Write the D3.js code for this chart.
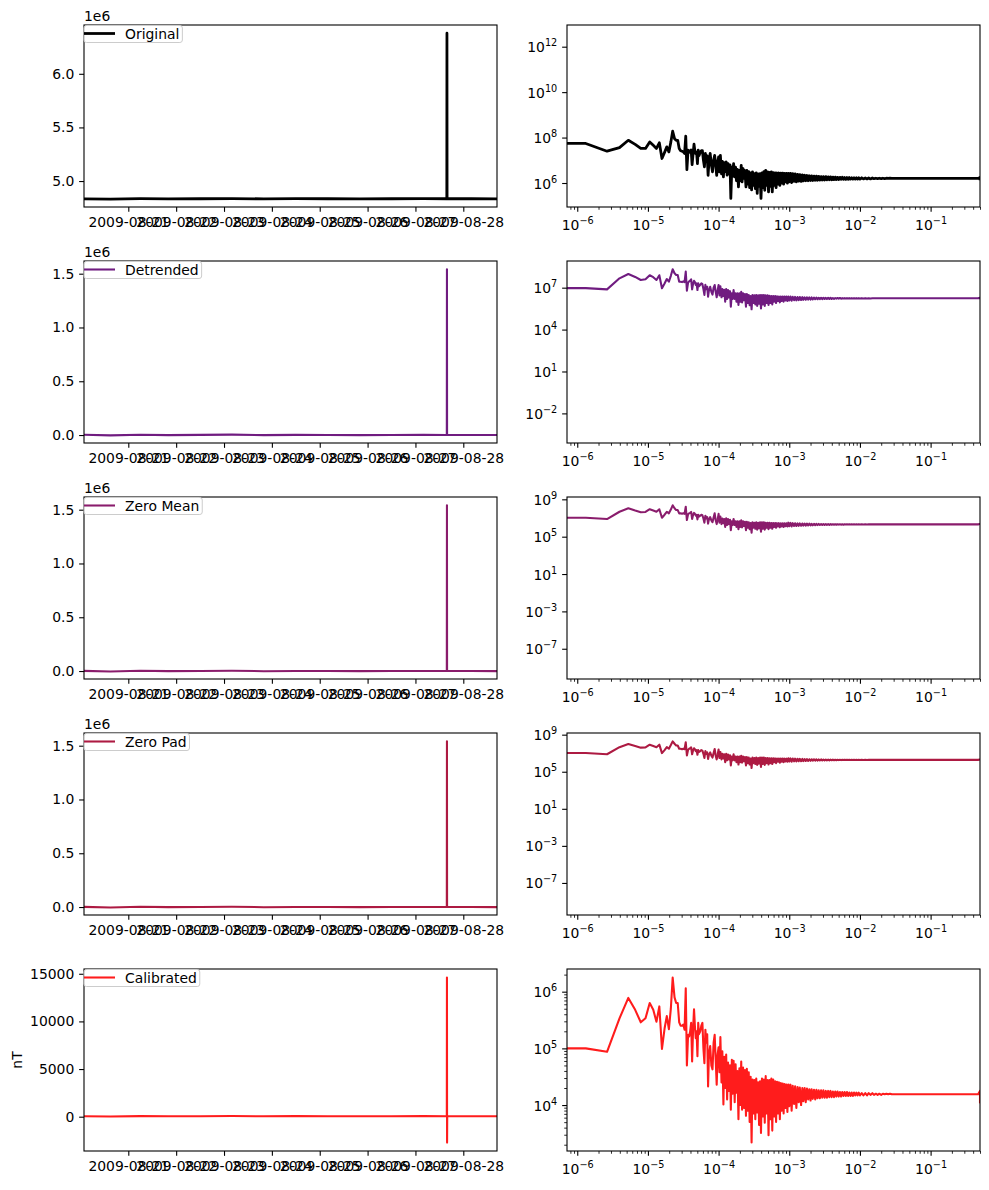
<!DOCTYPE html>
<html>
<head>
<meta charset="utf-8">
<script src="https://cdn.jsdelivr.net/npm/d3@7"></script>
<style>
  body { margin: 0; background: #fff; }
  svg { font-family: "DejaVu Sans", sans-serif; }
</style>
</head>
<body>
<svg id="fig" width="989" height="1190"></svg>
<script>
// ---------------- data ----------------

var seriesNames = ["Original", "Detrended", "Zero Mean", "Zero Pad", "Calibrated"];

// time series: sample times (UTC) and values for each processing step
var sampleTimes = [
  "2009-08-20T01:47", "2009-08-20T15:00", "2009-08-21T06:00", "2009-08-21T20:00",
  "2009-08-22T12:00", "2009-08-23T04:00", "2009-08-23T20:00", "2009-08-24T12:00",
  "2009-08-25T04:00", "2009-08-25T20:00", "2009-08-26T12:00", "2009-08-27T04:00",
  "2009-08-27T15:44", "2009-08-27T15:48", "2009-08-27T15:52", "2009-08-27T15:56",
  "2009-08-28T04:00", "2009-08-28T16:54"
];
var originalCounts = [4.834e6, 4.832e6, 4.836e6, 4.834e6, 4.835e6, 4.837e6, 4.834e6, 4.836e6, 4.835e6,
  4.834e6, 4.835e6, 4.836e6, 4.835e6, 6.378e6, 4.836e6, 4.835e6, 4.835e6, 4.834e6];
var detrendedCounts = [2000, -3000, 3000, -500, 1500, 3500, -1000, 1500, 500,
  -500, 500, 1500, 1000, 1541000, 1000, 1000, 500, 0];
var zeroMeanCounts = [1500, -3500, 2500, -1000, 1000, 3000, -1500, 1000, 0,
  -1000, 0, 1000, 500, 1540500, 500, 500, 0, -500];
var zeroPadCounts = [1500, -3500, 2500, -1000, 1000, 3000, -1500, 1000, 0,
  -1000, 0, 1000, 500, 1540500, 500, 500, 0, -500];
var calibratedNT = [40, 20, 60, 40, 50, 70, 40, 60, 50, 40, 50, 60, 50, 14613, -2720, 50, 50, 40];

// spectra: frequency bins (Hz) shared by all steps
var freqHz = [
  // low harmonics
  7.16e-7, 1.32e-6, 2.64e-6, 3.96e-6, 5.28e-6, 6.6e-6, 7.92e-6, 9.24e-6, 1.06e-5, 1.19e-5,
  1.32e-5, 1.45e-5, 1.58e-5, 1.72e-5, 1.85e-5, 1.98e-5, 2.11e-5, 2.24e-5, 2.38e-5, 2.51e-5,
  2.64e-5, 2.77e-5, 2.9e-5, 3.04e-5, 3.17e-5, 3.3e-5, 3.43e-5, 3.56e-5, 3.7e-5, 3.83e-5,
  3.96e-5, 4.09e-5, 4.22e-5, 4.36e-5, 4.49e-5, 4.62e-5, 4.75e-5, 4.88e-5, 5.02e-5, 5.15e-5, 5.28e-5,
  5.5e-5, 5.7e-5, 5.9e-5, 6.1e-5, 6.3e-5, 6.5e-5, 6.7e-5, 6.9e-5, 7.1e-5, 7.3e-5,
  7.6e-5, 7.9e-5, 8.2e-5, 8.5e-5, 8.8e-5, 9.1e-5, 9.4e-5, 9.7e-5,
  // 1e-4 .. 1e-3
  1.00e-4, 1.03e-4, 1.06e-4, 1.10e-4, 1.13e-4, 1.17e-4, 1.20e-4, 1.24e-4, 1.28e-4, 1.32e-4,
  1.36e-4, 1.40e-4, 1.45e-4, 1.49e-4, 1.54e-4, 1.58e-4, 1.63e-4, 1.69e-4, 1.74e-4, 1.79e-4,
  1.85e-4, 1.91e-4, 1.97e-4, 2.03e-4, 2.09e-4, 2.15e-4, 2.22e-4, 2.29e-4, 2.36e-4, 2.44e-4,
  2.51e-4, 2.59e-4, 2.67e-4, 2.75e-4, 2.84e-4, 2.93e-4, 3.02e-4, 3.11e-4, 3.21e-4, 3.31e-4,
  3.41e-4, 3.52e-4, 3.63e-4, 3.74e-4, 3.86e-4, 3.98e-4, 4.11e-4, 4.23e-4, 4.37e-4, 4.50e-4,
  4.64e-4, 4.79e-4, 4.94e-4, 5.09e-4, 5.25e-4, 5.41e-4, 5.58e-4, 5.75e-4, 5.93e-4, 6.12e-4,
  6.31e-4, 6.51e-4, 6.71e-4, 6.92e-4, 7.13e-4, 7.36e-4, 7.59e-4, 7.82e-4, 8.07e-4, 8.32e-4,
  8.58e-4, 8.85e-4, 9.12e-4, 9.41e-4, 9.70e-4,
  // 1e-3 .. 1e-2
  1.00e-3, 1.04e-3, 1.08e-3, 1.12e-3, 1.17e-3, 1.21e-3, 1.26e-3, 1.31e-3, 1.36e-3, 1.41e-3,
  1.47e-3, 1.53e-3, 1.58e-3, 1.65e-3, 1.71e-3, 1.78e-3, 1.85e-3, 1.92e-3, 2.00e-3, 2.07e-3,
  2.15e-3, 2.24e-3, 2.33e-3, 2.42e-3, 2.51e-3, 2.61e-3, 2.71e-3, 2.82e-3, 2.93e-3, 3.04e-3,
  3.16e-3, 3.29e-3, 3.41e-3, 3.55e-3, 3.69e-3, 3.83e-3, 3.98e-3, 4.14e-3, 4.30e-3, 4.47e-3,
  4.64e-3, 4.82e-3, 5.01e-3, 5.21e-3, 5.41e-3, 5.62e-3, 5.84e-3, 6.07e-3, 6.31e-3, 6.56e-3,
  6.81e-3, 7.08e-3, 7.36e-3, 7.64e-3, 7.94e-3, 8.25e-3, 8.58e-3, 8.91e-3, 9.26e-3, 9.62e-3,
  // 1e-2 .. 3e-2
  1.00e-2, 1.06e-2, 1.12e-2, 1.19e-2, 1.26e-2, 1.33e-2, 1.41e-2, 1.50e-2, 1.58e-2, 1.68e-2,
  1.78e-2, 1.88e-2, 2.00e-2, 2.11e-2, 2.24e-2, 2.37e-2, 2.51e-2, 2.66e-2, 2.82e-2, 2.99e-2,
  // flat tail to Nyquist
  3.2e-2, 0.1, 0.3, 0.47, 0.4995, 0.5
];

// spectral power per bin, as log10 (decades)
var originalPowLog10 = [
  7.74, 7.74, 7.40, 7.56, 7.88, 7.70, 7.52, 7.52, 7.81, 7.66,
  7.52, 7.77, 7.08, 7.35, 7.59, 7.37, 7.80, 8.28, 7.95, 7.88,
  7.88, 7.52, 7.42, 7.40, 7.37, 7.30, 8.06, 6.59, 7.45, 7.40,
  7.35, 7.45, 6.81, 7.30, 7.71, 7.40, 7.30, 7.35, 6.85, 7.45, 7.20,
  7.35, 7.42, 7.42, 7.00, 6.71, 7.30, 7.00, 7.20, 6.34, 6.90,
  7.30, 6.80, 6.49, 7.00, 7.22, 6.80, 6.34, 6.90,
  7.15, 6.49, 7.22, 6.40, 6.95, 6.27, 6.90, 6.50, 6.93, 6.35,
  6.85, 6.40, 6.80, 5.32, 6.70, 6.30, 6.85, 6.27, 6.70, 6.10,
  6.60, 5.83, 6.56, 6.10, 6.78, 6.05, 6.63, 6.20, 6.55, 5.83,
  6.56, 5.95, 6.50, 5.80, 6.45, 5.70, 6.49, 5.90, 6.41, 5.75,
  6.45, 5.54, 6.40, 5.85, 6.41, 5.32, 6.45, 5.80, 6.50, 5.68,
  6.56, 5.90, 6.49, 5.61, 6.47, 5.85, 6.49, 5.61, 6.46, 5.90,
  6.45, 5.80, 6.44, 5.95, 6.44, 5.90, 6.43, 6.00, 6.43, 5.95,
  6.42, 6.05, 6.42, 6.00, 6.42,
  6.05, 6.42, 6.02, 6.41, 6.07, 6.40, 6.05, 6.38, 6.08, 6.37,
  6.07, 6.36, 6.09, 6.34, 6.10, 6.33, 6.10, 6.32, 6.11, 6.31,
  6.11, 6.30, 6.12, 6.30, 6.12, 6.29, 6.13, 6.28, 6.13, 6.28,
  6.13, 6.28, 6.14, 6.27, 6.14, 6.27, 6.14, 6.26, 6.15, 6.26,
  6.15, 6.25, 6.15, 6.25, 6.16, 6.25, 6.16, 6.24, 6.16, 6.24,
  6.16, 6.24, 6.17, 6.23, 6.17, 6.23, 6.17, 6.23, 6.17, 6.23,
  6.17, 6.23, 6.18, 6.22, 6.18, 6.22, 6.18, 6.22, 6.19, 6.21,
  6.19, 6.21, 6.19, 6.21, 6.19, 6.21, 6.20, 6.21, 6.20, 6.20,
  6.20, 6.20, 6.20, 6.20, 6.24, 6.12
];
var detrendedPowLog10 = [
  6.97, 6.97, 6.88, 7.67, 7.98, 7.77, 7.55, 7.60, 7.89, 7.75,
  7.55, 7.89, 6.96, 7.30, 7.62, 7.43, 7.85, 8.32, 8.03, 7.91,
  7.91, 7.43, 7.43, 7.40, 7.45, 7.40, 8.15, 6.79, 7.36, 7.45,
  7.50, 7.60, 6.88, 7.30, 7.50, 7.40, 7.20, 7.31, 6.83, 7.31, 7.10,
  7.20, 7.31, 7.25, 6.90, 6.48, 7.20, 6.90, 7.07, 6.36, 6.80,
  7.07, 6.70, 6.50, 7.00, 7.19, 6.70, 6.31, 6.80,
  7.19, 6.45, 7.10, 6.31, 6.90, 6.40, 6.85, 6.00, 6.90, 6.20,
  6.83, 6.30, 6.75, 5.64, 6.60, 6.20, 6.83, 6.20, 6.60, 6.00,
  6.60, 5.76, 6.60, 6.00, 6.70, 5.95, 6.60, 6.10, 6.55, 5.64,
  6.55, 5.90, 6.48, 5.75, 6.40, 5.45, 6.48, 5.90, 6.45, 5.80,
  6.48, 5.70, 6.45, 5.85, 6.48, 5.52, 6.48, 5.80, 6.48, 5.70,
  6.45, 5.90, 6.45, 5.76, 6.42, 5.90, 6.40, 5.80, 6.40, 6.00,
  6.40, 5.90, 6.38, 6.05, 6.37, 5.95, 6.37, 6.05, 6.36, 6.00,
  6.36, 6.08, 6.36, 6.05, 6.36,
  6.08, 6.36, 6.06, 6.35, 6.10, 6.34, 6.09, 6.33, 6.11, 6.33,
  6.12, 6.32, 6.13, 6.31, 6.14, 6.31, 6.15, 6.30, 6.15, 6.30,
  6.16, 6.29, 6.17, 6.29, 6.17, 6.28, 6.18, 6.28, 6.18, 6.28,
  6.19, 6.27, 6.19, 6.27, 6.20, 6.27, 6.20, 6.26, 6.20, 6.26,
  6.21, 6.26, 6.21, 6.26, 6.21, 6.25, 6.22, 6.25, 6.22, 6.25,
  6.22, 6.25, 6.23, 6.25, 6.23, 6.25, 6.23, 6.25, 6.23, 6.25,
  6.23, 6.25, 6.23, 6.25, 6.23, 6.24, 6.23, 6.24, 6.24, 6.24,
  6.24, 6.24, 6.24, 6.24, 6.24, 6.24, 6.24, 6.24, 6.24, 6.24,
  6.24, 6.24, 6.24, 6.24, 6.28, 6.18
];
var zeroMeanPowLog10 = [
  7.03, 7.03, 6.89, 7.67, 8.04, 7.80, 7.62, 7.65, 7.94, 7.80,
  7.67, 7.94, 7.03, 7.35, 7.67, 7.50, 7.90, 8.36, 8.05, 7.85,
  7.85, 7.50, 7.50, 7.45, 7.50, 7.45, 8.21, 6.78, 7.40, 7.50,
  7.55, 7.65, 6.90, 7.35, 7.55, 7.45, 7.25, 7.35, 6.85, 7.35, 7.15,
  7.25, 7.35, 7.30, 6.95, 6.50, 7.25, 6.95, 7.10, 6.40, 6.85,
  7.10, 6.75, 6.55, 7.05, 7.50, 6.75, 6.35, 6.85,
  7.45, 6.50, 7.15, 6.35, 6.95, 6.45, 6.90, 6.05, 6.96, 6.25,
  6.88, 6.35, 6.80, 5.70, 6.65, 6.25, 6.90, 6.25, 6.65, 6.05,
  6.65, 5.80, 6.65, 6.05, 6.75, 6.00, 6.65, 6.15, 6.60, 5.70,
  6.60, 5.95, 6.55, 5.80, 6.45, 5.42, 6.55, 5.95, 6.50, 5.85,
  6.55, 5.75, 6.50, 5.90, 6.55, 5.53, 6.55, 5.85, 6.55, 5.75,
  6.50, 5.95, 6.50, 5.80, 6.48, 5.95, 6.47, 5.85, 6.47, 6.05,
  6.46, 5.95, 6.45, 6.10, 6.45, 6.00, 6.44, 6.10, 6.44, 6.05,
  6.43, 6.12, 6.43, 6.10, 6.50,
  6.12, 6.48, 6.10, 6.45, 6.15, 6.44, 6.14, 6.43, 6.16, 6.42,
  6.17, 6.41, 6.18, 6.40, 6.19, 6.40, 6.20, 6.39, 6.21, 6.38,
  6.22, 6.38, 6.23, 6.37, 6.24, 6.37, 6.25, 6.36, 6.25, 6.36,
  6.26, 6.35, 6.27, 6.35, 6.27, 6.35, 6.28, 6.34, 6.28, 6.34,
  6.28, 6.34, 6.29, 6.34, 6.29, 6.33, 6.29, 6.33, 6.30, 6.33,
  6.30, 6.33, 6.30, 6.33, 6.31, 6.33, 6.31, 6.33, 6.31, 6.33,
  6.31, 6.33, 6.31, 6.33, 6.31, 6.33, 6.32, 6.32, 6.32, 6.32,
  6.32, 6.32, 6.32, 6.32, 6.32, 6.32, 6.32, 6.32, 6.32, 6.32,
  6.32, 6.32, 6.32, 6.32, 6.36, 6.26
];
var zeroPadPowLog10 = [
  7.03, 7.03, 6.89, 7.65, 8.00, 7.78, 7.60, 7.63, 7.92, 7.78,
  7.65, 7.92, 7.01, 7.33, 7.65, 7.48, 7.88, 8.28, 8.02, 7.83,
  7.83, 7.48, 7.48, 7.43, 7.48, 7.43, 8.18, 6.76, 7.38, 7.48,
  7.53, 7.63, 6.88, 7.33, 7.53, 7.43, 7.23, 7.33, 6.83, 7.33, 7.13,
  7.23, 7.33, 7.28, 6.93, 6.48, 7.23, 6.93, 7.08, 6.38, 6.83,
  7.08, 6.73, 6.53, 7.03, 7.45, 6.73, 6.33, 6.83,
  7.40, 6.48, 7.13, 6.33, 6.93, 6.43, 6.88, 6.03, 6.94, 6.23,
  6.86, 6.33, 6.78, 5.68, 6.63, 6.23, 6.88, 6.23, 6.63, 6.03,
  6.63, 5.78, 6.63, 6.03, 6.73, 5.98, 6.63, 6.13, 6.58, 5.68,
  6.58, 5.93, 6.53, 5.78, 6.43, 5.40, 6.53, 5.93, 6.48, 5.83,
  6.53, 5.73, 6.48, 5.88, 6.53, 5.51, 6.53, 5.83, 6.53, 5.73,
  6.48, 5.93, 6.48, 5.78, 6.46, 5.93, 6.45, 5.83, 6.45, 6.03,
  6.44, 5.93, 6.43, 6.08, 6.43, 5.98, 6.42, 6.08, 6.42, 6.03,
  6.41, 6.10, 6.41, 6.08, 6.46,
  6.10, 6.44, 6.08, 6.42, 6.12, 6.41, 6.11, 6.40, 6.13, 6.39,
  6.14, 6.38, 6.15, 6.37, 6.16, 6.36, 6.17, 6.35, 6.18, 6.35,
  6.19, 6.34, 6.20, 6.34, 6.20, 6.33, 6.21, 6.33, 6.22, 6.32,
  6.22, 6.32, 6.23, 6.31, 6.23, 6.31, 6.24, 6.31, 6.24, 6.30,
  6.24, 6.30, 6.25, 6.30, 6.25, 6.30, 6.26, 6.30, 6.26, 6.29,
  6.26, 6.29, 6.27, 6.29, 6.27, 6.29, 6.27, 6.29, 6.27, 6.29,
  6.27, 6.29, 6.27, 6.29, 6.27, 6.29, 6.28, 6.29, 6.28, 6.28,
  6.28, 6.28, 6.28, 6.28, 6.28, 6.28, 6.28, 6.28, 6.28, 6.28,
  6.28, 6.28, 6.28, 6.28, 6.32, 6.22
];
var calibratedPowLog10 = [
  5.00, 5.00, 4.94, 5.53, 5.89, 5.68, 5.46, 5.53, 5.80, 5.68,
  5.47, 5.74, 4.99, 5.35, 5.57, 5.34, 5.70, 6.25, 5.90, 5.80,
  5.80, 5.46, 5.40, 5.40, 5.42, 5.33, 6.06, 4.70, 5.24, 5.21,
  5.30, 5.45, 4.77, 5.35, 5.69, 5.40, 5.18, 5.30, 4.86, 5.45, 5.25,
  5.30, 5.40, 5.45, 5.00, 4.74, 5.33, 5.10, 5.25, 4.33, 4.90,
  5.04, 4.70, 4.63, 5.10, 5.24, 4.80, 4.36, 4.90,
  5.02, 4.58, 5.20, 4.40, 4.95, 4.01, 4.85, 4.30, 4.89, 4.10,
  4.75, 4.25, 4.70, 3.92, 4.80, 4.20, 4.78, 4.05, 4.72, 4.22,
  4.60, 3.75, 4.65, 4.00, 4.77, 3.92, 4.66, 3.95, 4.62, 3.81,
  4.64, 3.90, 4.58, 3.70, 4.50, 3.34, 4.45, 3.85, 4.44, 3.75,
  4.47, 3.87, 4.40, 3.65, 4.42, 3.51, 4.47, 3.80, 4.45, 3.69,
  4.51, 3.85, 4.44, 3.47, 4.44, 3.75, 4.47, 3.55, 4.45, 3.80,
  4.42, 3.70, 4.41, 3.85, 4.40, 3.75, 4.39, 3.90, 4.38, 3.85,
  4.37, 3.95, 4.36, 3.88, 4.36,
  3.98, 4.36, 3.90, 4.34, 4.02, 4.33, 3.95, 4.32, 4.05, 4.31,
  4.00, 4.30, 4.07, 4.30, 4.05, 4.29, 4.10, 4.28, 4.08, 4.28,
  4.11, 4.27, 4.10, 4.27, 4.12, 4.26, 4.12, 4.26, 4.13, 4.26,
  4.13, 4.25, 4.13, 4.25, 4.14, 4.25, 4.14, 4.24, 4.14, 4.24,
  4.15, 4.24, 4.15, 4.23, 4.15, 4.23, 4.16, 4.23, 4.16, 4.23,
  4.16, 4.22, 4.16, 4.22, 4.16, 4.22, 4.17, 4.22, 4.17, 4.22,
  4.17, 4.21, 4.17, 4.21, 4.17, 4.21, 4.18, 4.21, 4.18, 4.20,
  4.18, 4.20, 4.18, 4.20, 4.19, 4.20, 4.19, 4.20, 4.19, 4.19,
  4.19, 4.19, 4.19, 4.19, 4.25, 4.03
];

// tick values
var dayTickLabels = ["2009-08-21", "2009-08-22", "2009-08-23", "2009-08-24",
  "2009-08-25", "2009-08-26", "2009-08-27", "2009-08-28"];
var freqDecades = [-6, -5, -4, -3, -2, -1];

// ---------------- layout ----------------
var svg = d3.select("#fig");
var defs = svg.append("defs");
var leftX = [84, 497], rightX = [567, 980];
var rowTop = [25, 261, 497, 733, 969], rowH = 182;
var TICK = 4.86, PAD = 4.86, MINOR = 2.78, FS = "13.9px";

var parseT = d3.utcParse("%Y-%m-%dT%H:%M");
var parseDay = d3.utcParse("%Y-%m-%d");
var tData = sampleTimes.map(parseT);
var xTime = d3.scaleUtc()
  .domain([parseT("2009-08-20T01:47"), parseT("2009-08-28T16:54")])
  .range(leftX);
var xFreq = d3.scaleLog().domain([freqHz[0], 0.5]).range(rightX);

var fmtM = function(v) { return (v / 1e6).toFixed(1); };
var panels = [
  {ts: originalCounts, spec: originalPowLog10, color: "#000000", lw: 2.78,
   tsDom: [4.758e6, 6.455e6], tsTicks: [5.0e6, 5.5e6, 6.0e6], fmt: fmtM, offset: "1e6",
   specDom: [4.944, 12.955], specTicks: [6, 8, 10, 12], minorY: false},
  {ts: detrendedCounts, spec: detrendedPowLog10, color: "#701c80", lw: 2.08,
   tsDom: [-0.074e6, 1.618e6], tsTicks: [0, 0.5e6, 1.0e6, 1.5e6], fmt: fmtM, offset: "1e6",
   specDom: [-4.12, 8.91], specTicks: [-2, 1, 4, 7], minorY: false},
  {ts: zeroMeanCounts, spec: zeroMeanPowLog10, color: "#8a1c6c", lw: 2.08,
   tsDom: [-0.074e6, 1.618e6], tsTicks: [0, 0.5e6, 1.0e6, 1.5e6], fmt: fmtM, offset: "1e6",
   specDom: [-10.24, 9.25], specTicks: [-7, -3, 1, 5, 9], minorY: false},
  {ts: zeroPadCounts, spec: zeroPadPowLog10, color: "#ad1a42", lw: 2.08,
   tsDom: [-0.074e6, 1.618e6], tsTicks: [0, 0.5e6, 1.0e6, 1.5e6], fmt: fmtM, offset: "1e6",
   specDom: [-10.46, 9.18], specTicks: [-7, -3, 1, 5, 9], minorY: false},
  {ts: calibratedNT, spec: calibratedPowLog10, color: "#ff1c1c", lw: 2.08,
   tsDom: [-3600, 15500], tsTicks: [0, 5000, 10000, 15000], fmt: d3.format("d"), offset: null,
   specDom: [3.19, 6.40], specTicks: [4, 5, 6], minorY: true}
];

panels.forEach(function(p, i) {
  if (p.spec.length !== freqHz.length) console.error("length mismatch", i, p.spec.length, freqHz.length);
  if (p.ts.length !== sampleTimes.length) console.error("ts length mismatch", i);
});

function sup(v) {
  return (v < 0 ? "\u2212" : "") + Math.abs(v);
}

function styleAxis(g) {
  g.select(".domain").remove();
  g.attr("font-family", null).attr("font-size", null);
  g.selectAll("text").style("font-size", FS).attr("fill", "#000");
  g.selectAll("line").attr("stroke", "#000").attr("stroke-width", 1.1);
}

function frame(x0, x1, top) {
  svg.append("rect").attr("x", x0).attr("y", top)
    .attr("width", x1 - x0).attr("height", rowH)
    .attr("fill", "none").attr("stroke", "#000").attr("stroke-width", 1.1);
}

function clip(id, x0, x1, top) {
  defs.append("clipPath").attr("id", id).append("rect")
    .attr("x", x0).attr("y", top).attr("width", x1 - x0).attr("height", rowH);
}

var minorFreq = [];
d3.range(-7, 0).forEach(function(e) {
  d3.range(2, 10).forEach(function(m) {
    var f = m * Math.pow(10, e);
    if (f >= freqHz[0] && f <= 0.5) minorFreq.push(f);
  });
});

panels.forEach(function(p, i) {
  var top = rowTop[i], bot = top + rowH;

  // ----- time series (left) -----
  clip("cl" + i, leftX[0], leftX[1], top);
  var yT = d3.scaleLinear().domain(p.tsDom).range([bot, top]);
  var line = d3.line()
    .x(function(d, j) { return xTime(tData[j]); })
    .y(function(d) { return yT(d); });
  svg.append("path").datum(p.ts)
    .attr("d", line)
    .attr("clip-path", "url(#cl" + i + ")")
    .attr("fill", "none").attr("stroke", p.color)
    .attr("stroke-width", p.lw).attr("stroke-linejoin", "round");

  svg.append("g").attr("transform", "translate(0," + bot + ")")
    .call(d3.axisBottom(xTime).tickValues(dayTickLabels.map(parseDay))
      .tickFormat(d3.utcFormat("%Y-%m-%d"))
      .tickSize(TICK).tickPadding(PAD).tickSizeOuter(0))
    .call(styleAxis);

  svg.append("g").attr("transform", "translate(" + leftX[0] + ",0)")
    .call(d3.axisLeft(yT).tickValues(p.tsTicks).tickFormat(p.fmt)
      .tickSize(TICK).tickPadding(PAD).tickSizeOuter(0))
    .call(styleAxis);

  frame(leftX[0], leftX[1], top);

  if (p.offset) {
    svg.append("text").attr("x", leftX[0]).attr("y", top - 4.5)
      .style("font-size", FS).text(p.offset);
  }

  // legend
  var lg = svg.append("g");
  var box = lg.append("rect").attr("x", leftX[0]).attr("y", top + 0.5)
    .attr("height", 17).attr("rx", 2.5)
    .attr("fill", "#fff").attr("fill-opacity", 0.8)
    .attr("stroke", "#cccccc").attr("stroke-width", 1);
  lg.append("line").attr("x1", leftX[0]).attr("x2", leftX[0] + 31)
    .attr("y1", top + 8.5).attr("y2", top + 8.5)
    .attr("stroke", p.color).attr("stroke-width", p.lw);
  var lt = lg.append("text").attr("x", leftX[0] + 41).attr("y", top + 13.5)
    .style("font-size", FS).text(seriesNames[i]);
  box.attr("width", 41 + lt.node().getComputedTextLength() + 3);

  if (i === panels.length - 1) {
    svg.append("text")
      .attr("transform", "translate(21.5," + (top + rowH / 2) + ") rotate(-90)")
      .attr("text-anchor", "middle").style("font-size", FS).text("nT");
  }

  // ----- spectrum (right) -----
  clip("cr" + i, rightX[0], rightX[1], top);
  var yS = d3.scaleLog()
    .domain([Math.pow(10, p.specDom[0]), Math.pow(10, p.specDom[1])])
    .range([bot, top]);
  var sLine = d3.line()
    .x(function(d, j) { return xFreq(freqHz[j]); })
    .y(function(d) { return yS(Math.pow(10, d)); });
  svg.append("path").datum(p.spec)
    .attr("d", sLine)
    .attr("clip-path", "url(#cr" + i + ")")
    .attr("fill", "none").attr("stroke", p.color)
    .attr("stroke-width", p.lw).attr("stroke-linejoin", "round");

  // x axis, log
  var gx = svg.append("g").attr("transform", "translate(0," + bot + ")")
    .call(d3.axisBottom(xFreq).tickValues(minorFreq).tickFormat("")
      .tickSize(MINOR).tickSizeOuter(0))
    .call(styleAxis);
  gx.selectAll("line").attr("stroke-width", 0.83);
  var gx2 = svg.append("g").attr("transform", "translate(0," + bot + ")")
    .call(d3.axisBottom(xFreq).tickValues(freqDecades.map(function(e){ return Math.pow(10, e); }))
      .tickFormat("").tickSize(TICK).tickPadding(PAD).tickSizeOuter(0))
    .call(styleAxis);
  gx2.selectAll(".tick text").each(function(d, k) {
    var t = d3.select(this).attr("dy", null).attr("y", 23);
    t.append("tspan").text("10");
    t.append("tspan").attr("dy", -6).style("font-size", "9.7px").text(sup(freqDecades[k]));
  });

  // y axis, log
  if (p.minorY) {
    var minorY = [];
    d3.range(Math.floor(p.specDom[0]), Math.ceil(p.specDom[1])).forEach(function(e) {
      d3.range(2, 10).forEach(function(m) {
        var v = Math.log10(m) + e;
        if (v > p.specDom[0] && v < p.specDom[1]) minorY.push(Math.pow(10, v));
      });
    });
    var gy0 = svg.append("g").attr("transform", "translate(" + rightX[0] + ",0)")
      .call(d3.axisLeft(yS).tickValues(minorY).tickFormat("").tickSize(MINOR).tickSizeOuter(0))
      .call(styleAxis);
    gy0.selectAll("line").attr("stroke-width", 0.83);
  }
  var gy = svg.append("g").attr("transform", "translate(" + rightX[0] + ",0)")
    .call(d3.axisLeft(yS).tickValues(p.specTicks.map(function(e){ return Math.pow(10, e); }))
      .tickFormat("").tickSize(TICK).tickPadding(PAD).tickSizeOuter(0))
    .call(styleAxis);
  gy.selectAll(".tick text").each(function(d, k) {
    var t = d3.select(this).attr("dy", null).attr("y", 5);
    t.append("tspan").text("10");
    t.append("tspan").attr("dy", -6).style("font-size", "9.7px").text(sup(p.specTicks[k]));
  });

  frame(rightX[0], rightX[1], top);
});
</script>
</body>
</html>
